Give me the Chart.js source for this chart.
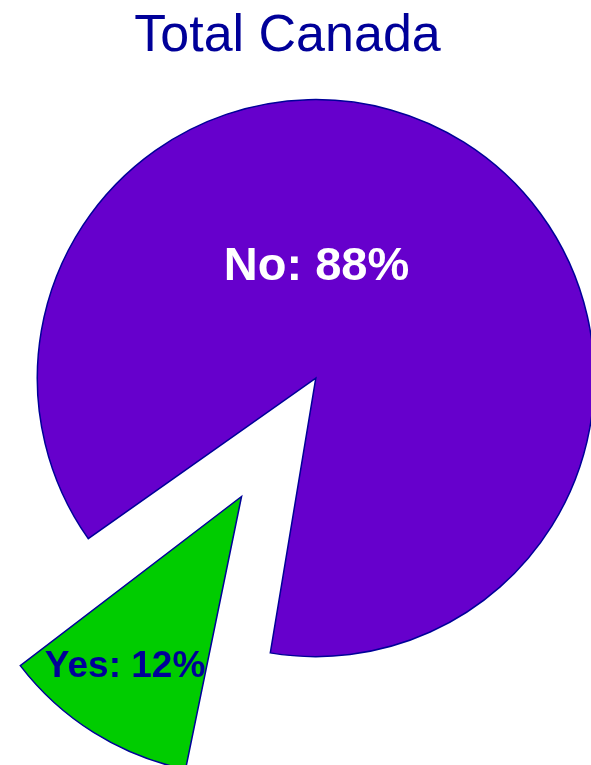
<!DOCTYPE html>
<html>
<head>
<meta charset="utf-8">
<script src="https://cdn.jsdelivr.net/npm/chart.js@4/dist/chart.umd.min.js"></script>
<style>
  body { margin: 0; background: #fff; }
  canvas { display: block; }
</style>
</head>
<body>
<canvas id="myChart" width="591" height="765"></canvas>
<script>
const chartTitle = 'Total Canada';
const categories = ['No', 'Yes'];
const shares = [88, 12];
const sliceColors = ['#6600CC', '#00CC00'];
const labelColors = ['#ffffff', '#000099'];

// title drawn by hand so it can sit off the pie's centre line
const titleText = {
    id: 'titleText',
    afterDraw(chart, args, opts) {
        const ctx = chart.ctx;
        ctx.save();
        ctx.font = opts.font;
        ctx.fillStyle = opts.color;
        ctx.textAlign = 'center';
        ctx.textBaseline = 'alphabetic';
        ctx.fillText(opts.text, opts.x, opts.y);
        ctx.restore();
    }
};

// "Name: xx%" labels placed from each slice's own tip
const sliceLabels = {
    id: 'sliceLabels',
    afterDatasetsDraw(chart, args, opts) {
        const ctx = chart.ctx;
        const meta = chart.getDatasetMeta(0);
        const ds = chart.data.datasets[0];
        meta.data.forEach((arc, i) => {
            const p = arc.getProps(['x', 'y', 'startAngle', 'endAngle'], true);
            const mid = (p.startAngle + p.endAngle) / 2;
            const shift = ds.offset[i] / 4;
            const tipX = p.x + Math.cos(mid) * shift;
            const tipY = p.y + Math.sin(mid) * shift;
            const place = opts.place[i];
            const a = place.angle * Math.PI / 180;

            ctx.save();
            ctx.font = place.font;
            ctx.fillStyle = labelColors[i];
            ctx.textAlign = 'center';
            ctx.textBaseline = 'alphabetic';
            ctx.fillText(`${chart.data.labels[i]}: ${shares[i]}%`,
                tipX + Math.cos(a) * place.dist,
                tipY + Math.sin(a) * place.dist);
            ctx.restore();
        });
    }
};

const myChart = new Chart('myChart', {
    type: 'pie',
    data: {
        labels: categories,
        datasets: [{
            data: shares,
            backgroundColor: sliceColors,
            borderColor: '#000099',
            borderWidth: 1.5,
            borderJoinStyle: 'miter',
            offset: [134, 425],
        }]
    },
    options: {
        responsive: false,
        animation: false,
        events: [],
        radius: 245,
        rotation: 233.7,
        layout: {
            padding: { left: 5, right: 0, top: 48, bottom: 0 },
        },
        plugins: {
            legend: { display: false },
            tooltip: { enabled: false },
            titleText: {
                text: chartTitle,
                font: '52px "Liberation Sans", Arial, sans-serif',
                color: '#000099',
                x: 287.5,
                y: 51,
            },
            sliceLabels: {
                place: [
                    { angle: 270.4, dist: 98, font: 'bold 47px "Liberation Sans", Arial, sans-serif' },
                    { angle: 122.8, dist: 215, font: 'bold 37px "Liberation Sans", Arial, sans-serif' },
                ]
            }
        }
    },
    plugins: [titleText, sliceLabels]
});
</script>
</body>
</html>
